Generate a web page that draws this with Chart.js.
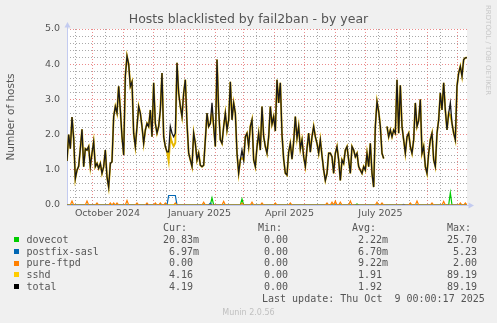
<!DOCTYPE html>
<html>
<head>
<meta charset="utf-8">
<script src="https://cdn.jsdelivr.net/npm/chart.js@4.4.0/dist/chart.umd.min.js"></script>
<style>
html, body { margin: 0; padding: 0; background: #f0f0f0; }
#wrap { position: relative; width: 497px; height: 323px; overflow: hidden; }
#chart { position: absolute; left: 0; top: 0; }
.col { position: absolute; top: 222px; font: 10px "DejaVu Sans Mono", monospace; color: #555; white-space: pre; line-height: 11.8px; }
.sq { position: absolute; left: 14px; width: 5px; height: 5px; }
#rrd { position: absolute; left: 492px; top: 5px; transform: rotate(90deg); transform-origin: 0 0; font: 7px "DejaVu Sans", sans-serif; color: #c8c8c8; white-space: nowrap; line-height: 8px; }
#munin { position: absolute; left: 0; width: 497px; top: 308px; text-align: center; font: 8px "DejaVu Sans", sans-serif; color: #c0c0c0; line-height: 10px; }
</style>
</head>
<body>
<div id="wrap">
	<canvas id="chart" width="497" height="323"></canvas>
	<div id="rrd">RRDTOOL / TOBI OETIKER</div>
	<div id="legend"></div>
	<div id="munin">Munin 2.0.56</div>
</div>
<script>
// one sample every 5/3 day, day 0 = 6 Sep 2024 (left edge of the plot)
const total = [
	1.25, 2.0, 1.6, 2.5, 1.9, 0.75, 0.99, 1.1, 1.6, 2.15,
	1.09, 1.6, 1.56, 1.66, 1.09, 1.47, 1.80, 1.09, 1.18, 1.04,
	1.18, 0.90, 1.09, 1.56, 0.80, 0.51, 1.18, 1.23, 2.51, 2.80,
	2.61, 3.37, 2.70, 1.94, 1.42, 3.66, 4.23, 4.0, 3.37, 3.5,
	2.04, 1.66, 2.23, 2.80, 2.61, 2.23, 1.75, 2.13, 2.32, 2.23,
	2.70, 1.94, 3.47, 2.32, 2.04, 2.23, 2.70, 3.75, 1.94, 1.66,
	1.51,
	1.51, 2.23, 2.04, 1.94, 2.04, 4.04, 3.18, 2.80, 2.51, 3.18,
	3.56, 2.32, 1.47, 1.28, 1.09, 2.04, 1.75, 1.28, 1.47, 1.13,
	1.09, 1.13, 1.85, 2.61, 2.23, 2.32, 2.90, 2.23, 1.66, 4.13,
	2.70, 1.85, 1.75, 2.23, 2.61, 2.13, 2.42, 3.5, 2.42, 2.90,
	2.61, 1.47, 0.90, 1.28, 1.56, 1.28, 1.94, 2.04, 1.66, 2.23,
	2.42, 1.28, 1.09, 1.66, 2.04, 1.56, 2.80, 1.94, 1.66, 1.47,
	1.94,
	2.80, 2.3, 2.51, 2.1, 3.56, 2.90, 3.47, 2.0, 1.3, 0.9,
	0.85, 1.5, 1.75, 1.3, 1.8, 2.51, 1.9, 2.23, 1.6, 1.85,
	1.37, 1.1, 1.6, 2.04, 1.5, 1.94, 2.23, 1.94, 1.75, 1.47,
	1.85, 1.4, 1.0, 0.70, 0.90, 1.47, 1.47, 1.37, 0.90, 1.47,
	1.66, 1.28, 0.70, 1.28, 1.18, 1.56, 1.66, 1.28, 0.90, 1.66,
	1.56, 1.37, 1.47, 1.09, 0.99, 0.90, 1.09, 0.99,
	1.47, 1.09, 1.75, 0.90, 0.51, 2.23, 2.94, 2.66, 2.23, 1.47,
	1.32, null, 2.23, 1.94, 2.13, 1.94, 2.13, 2.04, 3.56, 2.04,
	3.4, 2.23, 1.85, 1.47, 1.94, 2.04, 1.66, 1.47, 1.85, 2.9,
	2.23, 2.4, 3.0, 1.47, 1.66, 1.09, 0.90, 1.47, 1.85, 2.04,
	1.28, 1.09, 2.04, 2.42, 3.18, 2.70, 3.47, 2.70, 2.13, 2.61,
	2.90, 2.32, 2.04, 1.85, 3.37, 3.75, 3.94, 3.66, 4.13, 4.18,
	4.19
];
const sshd = [
	1.25, 2.0, 1.6, 2.5, 1.9, 0.75, 0.99, 1.1, 1.6, 2.15,
	1.09, 1.6, 1.56, 1.66, 1.09, 1.47, 1.80, 1.09, 1.18, 1.04,
	1.18, 0.90, 1.09, 1.56, 0.80, 0.51, 1.18, 1.23, 2.51, 2.80,
	2.61, 3.37, 2.70, 1.94, 1.42, 3.66, 4.23, 4.0, 3.37, 3.5,
	2.04, 1.66, 2.23, 2.80, 2.61, 2.23, 1.75, 2.13, 2.32, 2.23,
	2.70, 1.94, 3.47, 2.32, 2.04, 2.23, 2.70, 3.75, 1.94, 1.66,
	1.51,
	1.24, 1.96, 1.77, 1.67, 1.77, 4.04, 3.18, 2.80, 2.51, 3.18,
	3.56, 2.32, 1.47, 1.28, 1.09, 2.04, 1.75, 1.28, 1.47, 1.13,
	1.09, 1.13, 1.85, 2.61, 2.23, 2.32, 2.65, 2.23, 1.66, 4.13,
	2.70, 1.85, 1.75, 2.23, 2.61, 2.13, 2.42, 3.5, 2.42, 2.90,
	2.61, 1.47, 0.90, 1.28, 1.33, 1.28, 1.94, 2.04, 1.66, 2.23,
	2.42, 1.28, 1.09, 1.66, 2.04, 1.56, 2.80, 1.94, 1.66, 1.47,
	1.94,
	2.80, 2.3, 2.51, 2.1, 3.56, 2.90, 3.47, 2.0, 1.3, 0.9,
	0.85, 1.5, 1.75, 1.3, 1.8, 2.51, 1.9, 2.23, 1.6, 1.85,
	1.37, 1.1, 1.6, 2.04, 1.5, 1.94, 2.23, 1.94, 1.75, 1.47,
	1.85, 1.4, 1.0, 0.70, 0.90, 1.47, 1.47, 1.37, 0.90, 1.47,
	1.66, 1.28, 0.70, 1.28, 1.18, 1.56, 1.66, 1.28, 0.90, 1.66,
	1.56, 1.37, 1.47, 1.09, 0.99, 0.90, 1.09, 0.99,
	1.47, 1.09, 1.75, 0.90, 0.51, 2.23, 2.94, 2.66, 2.23, 1.47,
	1.32, null, 2.23, 1.94, 2.13, 1.94, 2.13, 2.04, 3.56, 2.04,
	3.4, 2.23, 1.85, 1.47, 1.94, 2.04, 1.66, 1.47, 1.85, 2.9,
	2.23, 2.4, 3.0, 1.47, 1.66, 1.09, 0.90, 1.47, 1.85, 2.04,
	1.28, 1.09, 2.04, 2.42, 3.18, 2.70, 3.47, 2.70, 2.13, 2.61,
	2.55, 2.32, 2.04, 1.85, 3.37, 3.75, 3.94, 3.66, 4.13, 4.18,
	4.19
];
// the small series are zero except at these sample indexes
const dovecotAt = [87, 105, 174, 230];
const dovecotVal = [0.20, 0.17, 0.03, 0.35];
const postfixAt = [48, 61, 62, 63, 64, 65, 86, 202];
const postfixVal = [0.02, 0.27, 0.27, 0.27, 0.27, 0.27, 0.05, 0.02];
const ftpdAt = [3, 12, 18, 26, 28, 30, 36, 42, 48, 53, 56, 59, 65, 82, 94, 105, 111, 117, 125, 134,
	156, 159, 161, 164, 170, 186, 189, 206, 210, 219, 226, 236, 239];
const ftpdVal = [0.11, 0.11, 0.06, 0.06, 0.06, 0.06, 0.13, 0.06, 0.06, 0.06, 0.06, 0.06, 0.06, 0.08, 0.10, 0.06, 0.08, 0.06, 0.06, 0.06,
	0.06, 0.08, 0.11, 0.08, 0.11, 0.08, 0.06, 0.06, 0.11, 0.06, 0.10, 0.06, 0.06];

const startDay = Date.UTC(2024, 8, 6);
const gridMonths = [[2024, 9], [2024, 10], [2024, 11], [2025, 0], [2025, 1], [2025, 2], [2025, 3], [2025, 4], [2025, 5], [2025, 6], [2025, 7], [2025, 8], [2025, 9]];
const labelMonths = [[2024, 9, "October 2024"], [2025, 0, "January 2025"], [2025, 3, "April 2025"], [2025, 6, "July 2025"]];

const legendNames = ["dovecot", "postfix-sasl", "pure-ftpd", "sshd", "total"];
const legendColors = ["#00cc00", "#0066b3", "#ff8000", "#ffcc00", "#000000"];
const curText = ["20.83m", " 6.97m", " 0.00", " 4.16", " 4.19"];
const minText = [" 0.00", " 0.00", " 0.00", " 0.00", " 0.00"];
const avgText = [" 2.22m", " 6.70m", " 9.22m", " 1.91", " 1.92"];
const maxText = ["25.70", " 5.23", " 2.00", "89.19", "89.19"];
const lastUpdate = "Last update: Thu Oct  9 00:00:17 2025";

function dayOf(y, m, d) {
	return (Date.UTC(y, m, d) - startDay) / 864e5;
}
function sparse(at, val) {
	let arr = total.map(() => 0);
	at.forEach((i, k) => { arr[i] = val[k]; });
	return arr;
}
function pts(arr) {
	return arr.map((v, i) => ({ x: i * 5 / 3, y: v }));
}

let xTicks = [];
gridMonths.forEach(m => {
	xTicks.push({ value: dayOf(m[0], m[1], 1), kind: "major", label: "" });
});
xTicks.push({ value: dayOf(2024, 8, 14), kind: "minor", label: "" });
gridMonths.slice(0, -1).forEach(m => {
	xTicks.push({ value: dayOf(m[0], m[1], 14), kind: "minor", label: "" });
});
labelMonths.forEach(m => {
	xTicks.push({ value: dayOf(m[0], m[1], 16) + 0.5, kind: "label", label: m[2] });
});

// legend block
let html = "";
legendNames.forEach((n, i) => {
	html += `<div class="sq" style="top:${237 + i * 11.8}px;background:${legendColors[i]}"></div>`;
});
const col = (left, lines) => `<div class="col" style="left:${left}px">${lines.join("\n")}</div>`;
html += col(26.5, [""].concat(legendNames));
html += col(163, ["Cur:"].concat(curText));
html += col(258, ["Min:"].concat(minText));
html += col(352, ["Avg:"].concat(avgText));
html += col(447, ["Max:"].concat(maxText));
html += `<div class="col" style="left:262px;top:${222 + 6 * 11.8}px">${lastUpdate}</div>`;
document.getElementById("legend").innerHTML = html;

const axisColor = "#c3cbf0";
const framePlugin = {
	id: "frame",
	beforeDraw(chart) {
		const { ctx, chartArea: a } = chart;
		ctx.save();
		ctx.fillStyle = "#ffffff";
		ctx.fillRect(a.left, a.top, a.right - a.left, a.bottom - a.top);
		ctx.restore();
	},
	beforeDatasetsDraw(chart) {
		const { ctx, chartArea: a } = chart;
		ctx.save();
		ctx.strokeStyle = axisColor;
		ctx.fillStyle = axisColor;
		ctx.lineWidth = 1;
		ctx.beginPath();
		ctx.moveTo(a.left + 0.5, a.bottom);
		ctx.lineTo(a.left + 0.5, a.top - 4);
		ctx.moveTo(a.left, a.bottom + 0.5);
		ctx.lineTo(a.right + 4, a.bottom + 0.5);
		ctx.stroke();
		ctx.beginPath();
		ctx.moveTo(a.left + 0.5, a.top - 7);
		ctx.lineTo(a.left - 2.5, a.top - 1.5);
		ctx.lineTo(a.left + 3.5, a.top - 1.5);
		ctx.closePath();
		ctx.fill();
		ctx.beginPath();
		ctx.moveTo(a.right + 7, a.bottom + 0.5);
		ctx.lineTo(a.right + 1.5, a.bottom - 2.5);
		ctx.lineTo(a.right + 1.5, a.bottom + 3.5);
		ctx.closePath();
		ctx.fill();
		ctx.restore();
	}
};

const isInt = v => Math.abs(v - Math.round(v)) < 1e-6;
const font = { family: "DejaVu Sans", size: 9.5 };
const majorColor = "rgba(230,110,110,0.8)";
const minorColor = "rgba(140,140,140,0.75)";

new Chart(document.getElementById("chart"), {
	type: "line",
	data: {
		datasets: [
			{ label: "total", data: pts(total), borderColor: "#1a1a1a", borderWidth: 1.3, order: 0 },
			{ label: "sshd", data: pts(sshd), borderColor: "#e6b800", borderWidth: 1.9, order: 1 },
			{ label: "pure-ftpd", data: pts(sparse(ftpdAt, ftpdVal)), borderColor: "#ff8000", borderWidth: 1.2, order: 2 },
			{ label: "postfix-sasl", data: pts(sparse(postfixAt, postfixVal)), borderColor: "#0066b3", borderWidth: 1.2, order: 3 },
			{ label: "dovecot", data: pts(sparse(dovecotAt, dovecotVal)), borderColor: "#00cc00", borderWidth: 1.2, order: 4 }
		]
	},
	options: {
		responsive: false,
		animation: false,
		devicePixelRatio: 1,
		elements: { point: { radius: 0 }, line: { tension: 0, fill: false } },
		layout: { padding: 0 },
		plugins: {
			legend: { display: false },
			tooltip: { enabled: false },
			title: {
				display: true,
				text: "Hosts blacklisted by fail2ban - by year",
				color: "#555",
				font: { family: "DejaVu Sans", size: 12.5, weight: "normal" },
				padding: { top: 12, bottom: 2 }
			}
		},
		scales: {
			x: {
				type: "linear",
				min: 0,
				max: 400,
				afterBuildTicks: s => { s.ticks = xTicks.map(t => ({ value: t.value })); },
				afterFit: s => { s.height = 118; },
				ticks: {
					autoSkip: false,
					maxRotation: 0,
					padding: 3,
					color: "#555",
					font: font,
					callback: (v, i) => xTicks[i].label
				},
				grid: {
					drawTicks: false,
					color: c => {
						const t = xTicks[c.index];
						if (!t || t.kind == "label") return "rgba(0,0,0,0)";
						return t.kind == "major" ? majorColor : minorColor;
					}
				},
				border: { display: false, dash: [1, 2] }
			},
			y: {
				min: 0,
				max: 5,
				afterFit: s => { s.width = 67; },
				ticks: {
					stepSize: 0.2,
					autoSkip: false,
					padding: 7,
					color: "#555",
					font: font,
					callback: v => isInt(v) ? v.toFixed(1) : ""
				},
				grid: {
					drawTicks: false,
					color: c => isInt(c.tick.value) ? majorColor : minorColor
				},
				border: { display: false, dash: [1, 2] },
				title: {
					display: true,
					text: "Number of hosts",
					color: "#555",
					font: { family: "DejaVu Sans", size: 10.5 },
					padding: { top: 5, bottom: 0 }
				}
			},
			yr: {
				position: "right",
				afterFit: s => { s.width = 30; },
				grid: { display: false },
				ticks: { display: false },
				border: { display: false }
			}
		}
	},
	plugins: [framePlugin]
});
</script>
</body>
</html>
